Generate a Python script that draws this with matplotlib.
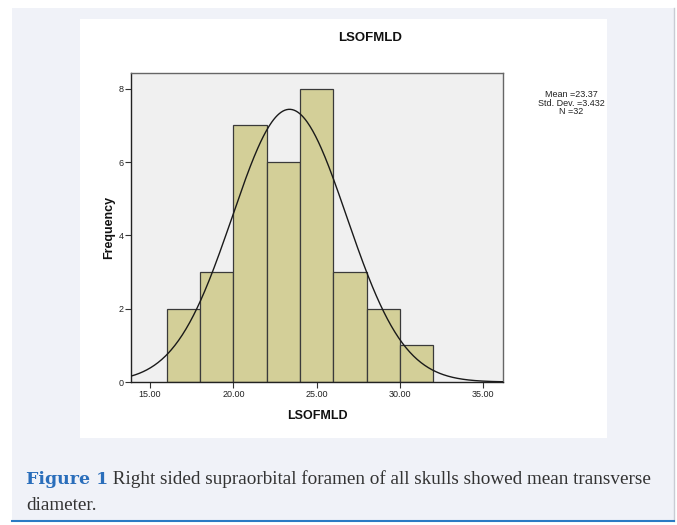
import numpy as np
import matplotlib
matplotlib.use("Agg")
import matplotlib.pyplot as plt
from matplotlib.patches import Rectangle

# Data
bin_edges = [16, 18, 20, 22, 24, 26, 28, 30, 32]
counts = [2, 3, 7, 6, 8, 3, 2, 1]
mean_val = 23.37
std_val = 3.432
n_val = 32
xticks = [15, 20, 25, 30, 35]
yticks = [0, 2, 4, 6, 8]
title = "LSOFMLD"
xlabel = "LSOFMLD"
ylabel = "Frequency"
caption_bold = "Figure 1"
caption_rest = " Right sided supraorbital foramen of all skulls showed mean transverse"
caption_line2 = "diameter."

plt.rcParams['font.family'] = ['Liberation Sans', 'DejaVu Sans']

W, H = 677, 525
fig = plt.figure(figsize=(W / 100, H / 100), dpi=100)
fig.patch.set_facecolor("white")

def fx(x):
    return x / W

def fy(y):
    return 1 - y / H

# outer light background
fig.patches.append(Rectangle((fx(12), fy(521)), fx(674) - fx(12), fy(8) - fy(521),
                             transform=fig.transFigure, facecolor="#f0f2f8", edgecolor="none", zorder=0))
fig.add_artist(plt.Line2D([fx(674), fx(674)], [fy(521), fy(8)], transform=fig.transFigure,
                          color="#c8ccd4", lw=1))
fig.add_artist(plt.Line2D([fx(12), fx(674)], [fy(521), fy(521)], transform=fig.transFigure,
                          color="#2a7bc4", lw=1.5))
# white panel
fig.patches.append(Rectangle((fx(80), fy(438)), fx(607) - fx(80), fy(19) - fy(438),
                             transform=fig.transFigure, facecolor="white", edgecolor="none", zorder=0.5))

ax = fig.add_axes([fx(131), fy(382), fx(503) - fx(131), fy(73) - fy(382)])
ax.set_zorder(2)
ax.set_facecolor("#f0f0f0")

widths = np.diff(bin_edges)
ax.bar(bin_edges[:-1], counts, width=widths, align="edge", color="#d3cf98",
       edgecolor="#3a3a3a", linewidth=0.9, zorder=2)

xs = np.linspace(13.86, 36.18, 400)
bw = bin_edges[1] - bin_edges[0]
ys = n_val * bw / (std_val * np.sqrt(2 * np.pi)) * np.exp(-0.5 * ((xs - mean_val) / std_val) ** 2)
ax.plot(xs, ys, color="#1a1a1a", lw=1.0, zorder=3)

ax.set_xlim(13.86, 36.18)
ax.set_ylim(0, 8.43)
ax.set_xticks(xticks)
ax.set_xticklabels([f"{v:.2f}" for v in xticks], fontsize=6.5, color="#222222")
ax.set_yticks(yticks)
ax.set_yticklabels([str(v) for v in yticks], fontsize=6.5, color="#222222")
ax.tick_params(axis="both", length=4, width=0.8, color="#333333", pad=1.5)

for side in ["top", "right"]:
    ax.spines[side].set_color("#666666")
    ax.spines[side].set_linewidth(1.0)
for side in ["left", "bottom"]:
    ax.spines[side].set_color("#222222")
    ax.spines[side].set_linewidth(1.0)

ax.set_xlabel(xlabel, fontsize=9, fontweight="bold", labelpad=8, color="#111111")
ax.set_ylabel(ylabel, fontsize=9, fontweight="bold", labelpad=2, color="#111111")

fig.text(fx(370), fy(38), title, ha="center", va="center", fontsize=9.5, fontweight="bold", color="#111111")

stats = f"Mean ={mean_val:.2f}\nStd. Dev. ={std_val:.3f}\nN ={n_val}"
fig.text(fx(571), fy(103), stats, ha="center", va="center", fontsize=6.5, color="#222222",
         linespacing=0.9)

cap_y1 = fy(479)
t1 = fig.text(fx(26), cap_y1, caption_bold, ha="left", va="center", fontsize=12.5,
              fontweight="bold", color="#2a6ebb", family="DejaVu Serif")
fig.canvas.draw()
bb = t1.get_window_extent()
x_after = bb.x1 / W
fig.text(x_after, cap_y1, caption_rest, ha="left", va="center", fontsize=13.8,
         color="#333333", family="Liberation Serif")
fig.text(fx(26), fy(505), caption_line2, ha="left", va="center", fontsize=13.8,
         color="#333333", family="Liberation Serif")

fig.savefig("out.png", dpi=100, facecolor=fig.get_facecolor())
